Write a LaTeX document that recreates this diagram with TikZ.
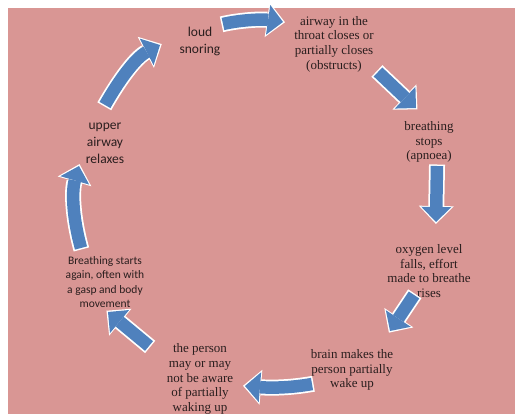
\documentclass[tikz,border=0pt]{standalone}
\usepackage{fontspec}
\setmainfont{Liberation Serif}
\newfontfamily\calfont{Carlito}
\usetikzlibrary{arrows.meta}
\definecolor{bgpink}{HTML}{D99694}
\definecolor{arrowblue}{HTML}{4F81BD}
\definecolor{txt}{HTML}{2A1E1E}
\newcommand\blockarrow[1]{\draw[arrowout] #1; \draw[arrowin] #1;}
\begin{document}
\begin{tikzpicture}[x=1pt,y=-1pt,
 serif/.style={align=center, font=\fontsize{13}{14.7}\selectfont, text=txt, inner sep=0pt},
 sans/.style={align=center, font=\calfont\fontsize{13.5}{17}\selectfont, text=txt, inner sep=0pt},
 arrowout/.style={draw=white, line width=16pt, -{Triangle[width=35pt,length=18pt,line width=0pt]}, shorten <=-1.5pt, shorten >=-2pt},
 arrowin/.style={draw=arrowblue, line width=12.5pt, -{Triangle[width=30pt,length=15pt,line width=0pt]}},
]
\useasboundingbox (0,0) rectangle (515,414);
\fill[white] (0,0) rectangle (515,414);
\fill[bgpink] (8,8) rectangle (515,414);

\node[sans] (snore) at (200,41.5) {loud\\snoring};
\node[serif] (airway) at (334,44) {airway in the\\throat closes or\\partially closes\\(obstructs)};
\node[serif] (stops) at (429,142) {breathing\\stops\\(apnoea)};
\node[serif] (oxygen) at (429,271) {oxygen level\\falls, effort\\made to breathe\\rises};
\node[serif] (brain) at (352,370) {brain makes the\\person partially\\wake up};
\node[serif] (aware) at (200,379) {the person\\may or may\\not be aware\\of partially\\waking up};
\node[sans, font=\calfont\fontsize{11.5}{14.5}\selectfont] (gasp) at (105,282) {Breathing starts\\again, often with\\a gasp and body\\movement};
\node[sans] (relax) at (105,143) {upper\\airway\\relaxes};

\coordinate (a1s) at (223,24); \coordinate (a1e) at (283,22);
\coordinate (a2s) at (378,72); \coordinate (a2e) at (416,108);
\coordinate (a3s) at (437,166); \coordinate (a3e) at (436,222);
\coordinate (a4s) at (414,295); \coordinate (a4e) at (390,331);
\coordinate (a5s) at (312,384); \coordinate (a5e) at (245,386);
\coordinate (a6s) at (149,346); \coordinate (a6e) at (108,312);
\coordinate (a7s) at (81,248); \coordinate (a7e) at (79,166);
\coordinate (a8s) at (105,105); \coordinate (a8e) at (160,45);

\blockarrow{(a1s) .. controls (240,20) and (262,19) .. (a1e)}
\blockarrow{(a2s) -- (a2e)}
\blockarrow{(a3s) -- (a3e)}
\blockarrow{(a4s) -- (a4e)}
\blockarrow{(a5s) .. controls (290,388) and (270,388) .. (a5e)}
\blockarrow{(a6s) -- (a6e)}
\blockarrow{(a7s) .. controls (72,215) and (72,190) .. (a7e)}
\blockarrow{(a8s) .. controls (118,82) and (135,58) .. (a8e)}
\end{tikzpicture}
\end{document}
